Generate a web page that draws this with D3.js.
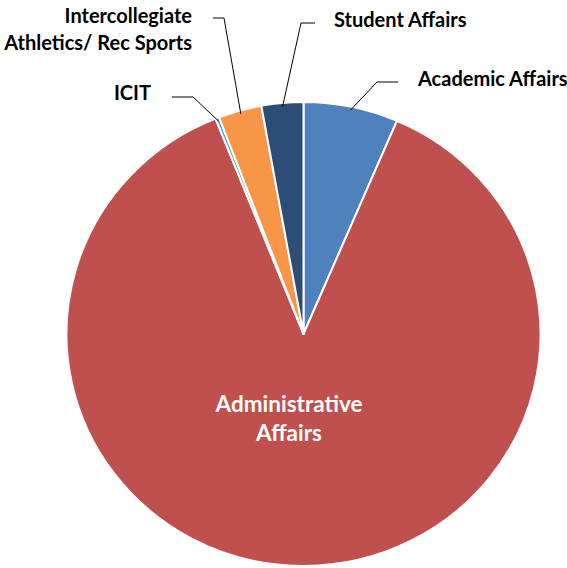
<!DOCTYPE html>
<html>
<head>
<meta charset="utf-8">
<script src="https://cdn.jsdelivr.net/npm/d3@7"></script>
<style>
  body { margin: 0; background: #fff; }
  svg { display: block; }
  .lbl { font-family: Lato, "Open Sans", sans-serif; font-weight: bold; font-size: 20px; fill: #000; }
  .inner { font-family: Lato, "Open Sans", sans-serif; font-weight: bold; font-size: 22.5px; fill: #fff; }
  .leader { fill: none; stroke: #000; stroke-width: 1; }
</style>
</head>
<body>
<div id="chart"></div>
<script>
// slices, clockwise from 12 o'clock (percent of total)
var categories = ["Academic Affairs", "Administrative Affairs", "ICIT",
  "Intercollegiate Athletics/ Rec Sports", "Student Affairs"];
var values = [6.45, 87.5, 0.25, 2.95, 2.85];
var colors = ["#4F81BD", "#C0504D", "#4BACC6", "#F79646", "#2C4D75"];

// label text lines
var labelLines = [
  ["Academic Affairs"],
  ["Administrative", "Affairs"],
  ["ICIT"],
  ["Intercollegiate", "Athletics/ Rec Sports"],
  ["Student Affairs"]
];

var width = 567, height = 568;
var cx = 303.5, cy = 334, radius = 237, squash = 232 / 237;

// label placement: text anchor point, leader start, leader elbow (null = inside label)
var labelLayout = [
  { x: 418, y: 86, anchor: "start", lead: [398, 82], elbow: [377, 82] },
  { x: 289, y: 412, anchor: "middle", lead: null },
  { x: 151, y: 100, anchor: "end", lead: [172, 97], elbow: [193, 97] },
  { x: 192, y: 23, anchor: "end", lead: [213, 18], elbow: [224, 18] },
  { x: 334, y: 27, anchor: "start", lead: [315, 23], elbow: [301, 23] }
];

var svg = d3.select("#chart")
  .append("svg")
  .attr("width", width)
  .attr("height", height);

var pie = d3.pie().sort(null).value(function(d) { return d; });
var arcs = pie(values);

var arc = d3.arc().innerRadius(0).outerRadius(radius);
var edgeArc = d3.arc().innerRadius(radius * 0.985).outerRadius(radius * 0.985);

var g = svg.append("g")
  .attr("transform", "translate(" + cx + "," + cy + ") scale(1," + squash + ")");

g.selectAll("path")
  .data(arcs)
  .enter().append("path")
  .attr("d", arc)
  .attr("fill", function(d, i) { return colors[i]; })
  .attr("stroke", "#fff")
  .attr("stroke-width", 2)
  .attr("stroke-linejoin", "round");

// leader lines
arcs.forEach(function(d, i) {
  var L = labelLayout[i];
  if (!L.lead) return;
  var c = edgeArc.centroid(d);
  var end = [cx + c[0], cy + c[1] * squash];
  svg.append("path")
    .attr("class", "leader")
    .attr("d", d3.line()([L.lead, L.elbow, end]));
});

// labels
labelLines.forEach(function(lines, i) {
  var L = labelLayout[i];
  var t = svg.append("text")
    .attr("class", i === 1 ? "inner" : "lbl")
    .attr("text-anchor", L.anchor);
  var lh = i === 1 ? 29 : 27;
  lines.forEach(function(s, j) {
    t.append("tspan")
      .attr("x", L.x)
      .attr("y", L.y + j * lh)
      .text(s);
  });
});
</script>
</body>
</html>
